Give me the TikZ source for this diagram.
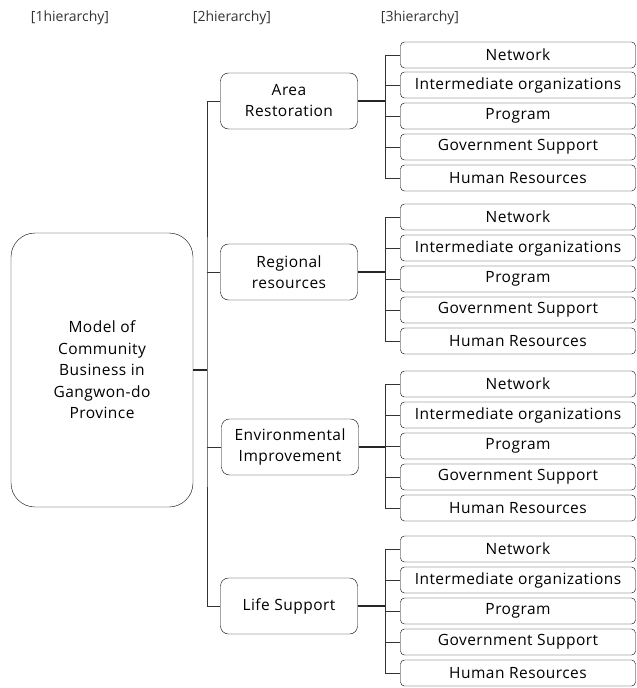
\documentclass[tikz,border=0pt]{standalone}
\usepackage{fontspec}
\setmainfont{Open Sans}
\newfontfamily\boxfont{Open Sans}[LetterSpace=3]
\usepackage{tikz}
\tikzset{
  rootbox/.style  = {shape=rectangle, rounded corners=24pt, draw, align=center,
                     minimum width=182pt, minimum height=274pt,
                     font=\boxfont\fontsize{15.5}{21.5}\selectfont},
  midbox/.style   = {shape=rectangle, rounded corners=8pt, draw, align=center,
                     minimum width=137pt, minimum height=56pt,
                     font=\boxfont\fontsize{15.5}{21}\selectfont},
  leafbox/.style  = {shape=rectangle, rounded corners=4pt, draw, inner sep=0pt,
                     minimum width=235pt, minimum height=26pt,
                     font=\boxfont\fontsize{15.5}{16}\selectfont},
  header/.style   = {font=\fontsize{14}{16}\selectfont, text=black!80},
  link/.style     = {line width=0.8pt, draw=black!80},
  thick link/.style = {line width=1.4pt, draw=black!85}
}
\begin{document}
\begin{tikzpicture}[x=1pt, y=-1pt, line join=miter]
  \useasboundingbox (0,0) rectangle (637,688);

  \node[header] (h1) at (70,18)  {[1hierarchy]};
  \node[header] (h2) at (232,18) {[2hierarchy]};
  \node[header] (h3) at (420,18) {[3hierarchy]};

  \node[rootbox] (model) at (102,370)
    {Model of\\Community\\Business in\\Gangwon-do\\Province};

  \node[midbox] (area)     at (289,101) {Area\\Restoration};
  \node[midbox] (regional) at (289,272) {Regional\\resources};
  \node[midbox] (env)      at (290,447) {Environmental\\Improvement};
  \node[midbox] (life)     at (289,606) {Life Support};

  % third level, area restoration
  \node[leafbox] (a1) at (518,55)  {Network};
  \node[leafbox] (a2) at (518,85)  {Intermediate organizations};
  \node[leafbox] (a3) at (518,116) {Program};
  \node[leafbox] (a4) at (518,147) {Government Support};
  \node[leafbox] (a5) at (518,178) {Human Resources};
  % third level, regional resources
  \node[leafbox] (r1) at (518,217) {Network};
  \node[leafbox] (r2) at (518,248) {Intermediate organizations};
  \node[leafbox] (r3) at (518,279) {Program};
  \node[leafbox] (r4) at (518,310) {Government Support};
  \node[leafbox] (r5) at (518,341) {Human Resources};
  % third level, environmental improvement
  \node[leafbox] (e1) at (518,384) {Network};
  \node[leafbox] (e2) at (518,415) {Intermediate organizations};
  \node[leafbox] (e3) at (518,446) {Program};
  \node[leafbox] (e4) at (518,477) {Government Support};
  \node[leafbox] (e5) at (518,508) {Human Resources};
  % third level, life support
  \node[leafbox] (l1) at (518,549) {Network};
  \node[leafbox] (l2) at (518,580) {Intermediate organizations};
  \node[leafbox] (l3) at (518,611) {Program};
  \node[leafbox] (l4) at (518,642) {Government Support};
  \node[leafbox] (l5) at (518,673) {Human Resources};

  % trunk
  \coordinate (trunk) at (207,370);
  \draw[thick link] (model.east) -- (trunk);
  \draw[link] (area.west) -| (trunk) |- (life.west);
  \draw[link] (regional.west) -- (regional.west -| trunk);
  \draw[link] (env.west) -- (env.west -| trunk);

  % brackets
  \coordinate (fork) at (385,0);
  \draw[thick link] (area.east) -- (area.east -| fork);
  \draw[link] (a1.west) -| (a1.west -| fork) |- (a5.west);
  \draw[link] (a2.west) -- (a2.west -| fork);
  \draw[link] (a3.west) -- (a3.west -| fork);
  \draw[link] (a4.west) -- (a4.west -| fork);

  \draw[thick link] (regional.east) -- (regional.east -| fork);
  \draw[link] (r1.west) -| (r1.west -| fork) |- (r5.west);
  \draw[link] (r2.west) -- (r2.west -| fork);
  \draw[link] (r3.west) -- (r3.west -| fork);
  \draw[link] (r4.west) -- (r4.west -| fork);

  \draw[thick link] (env.east) -- (env.east -| fork);
  \draw[link] (e1.west) -| (e1.west -| fork) |- (e5.west);
  \draw[link] (e2.west) -- (e2.west -| fork);
  \draw[link] (e3.west) -- (e3.west -| fork);
  \draw[link] (e4.west) -- (e4.west -| fork);

  \draw[thick link] (life.east) -- (life.east -| fork);
  \draw[link] (l1.west) -| (l1.west -| fork) |- (l5.west);
  \draw[link] (l2.west) -- (l2.west -| fork);
  \draw[link] (l3.west) -- (l3.west -| fork);
  \draw[link] (l4.west) -- (l4.west -| fork);
\end{tikzpicture}
\end{document}
